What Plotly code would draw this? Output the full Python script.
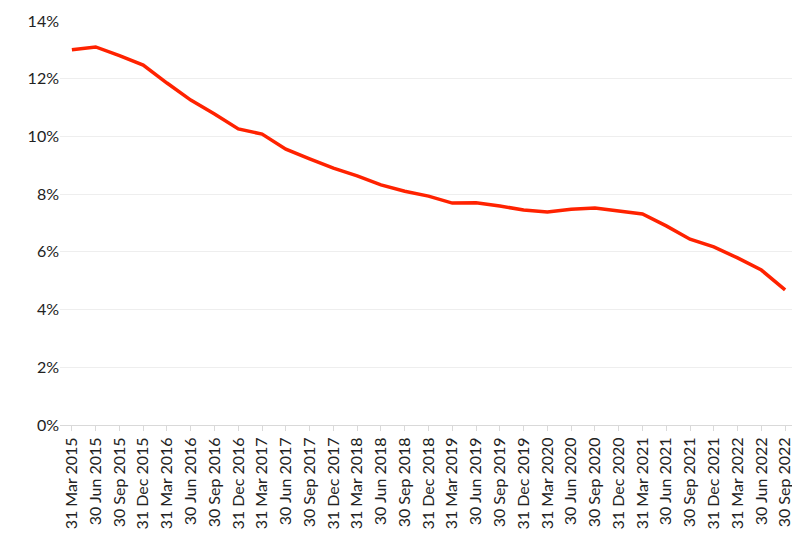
import plotly.graph_objects as go

quarters = ["31 Mar 2015", "30 Jun 2015", "30 Sep 2015", "31 Dec 2015",
            "31 Mar 2016", "30 Jun 2016", "30 Sep 2016", "31 Dec 2016",
            "31 Mar 2017", "30 Jun 2017", "30 Sep 2017", "31 Dec 2017",
            "31 Mar 2018", "30 Jun 2018", "30 Sep 2018", "31 Dec 2018",
            "31 Mar 2019", "30 Jun 2019", "30 Sep 2019", "31 Dec 2019",
            "31 Mar 2020", "30 Jun 2020", "30 Sep 2020", "31 Dec 2020",
            "31 Mar 2021", "30 Jun 2021", "30 Sep 2021", "31 Dec 2021",
            "31 Mar 2022", "30 Jun 2022", "30 Sep 2022"]
rate = [13.0, 13.1, 12.8, 12.47, 11.85, 11.26, 10.78, 10.26, 10.08, 9.56,
        9.22, 8.9, 8.63, 8.32, 8.1, 7.93, 7.69, 7.7, 7.59, 7.45, 7.38, 7.48,
        7.52, 7.42, 7.31, 6.9, 6.44, 6.17, 5.79, 5.37, 4.68]

fig = go.Figure()
fig.add_trace(go.Scatter(x=quarters, y=[v / 100 for v in rate], mode="lines",
                         line=dict(color="#ff2200", width=3.5)))

fig.update_layout(
    width=800, height=534,
    margin=dict(l=52, r=11, t=13, b=117),
    plot_bgcolor="white", paper_bgcolor="white",
    font=dict(family="Lato", size=16, color="#222"),
    showlegend=False,
)
fig.update_xaxes(tickangle=-90, showgrid=False, showline=True, linecolor="#d9d9d9",
                 ticks="outside", tickcolor="#d9d9d9", ticklen=5, automargin=False,
                 range=[-0.5, len(quarters) - 0.5])
fig.update_yaxes(range=[0, 0.14], dtick=0.02, tickformat=".0%", showgrid=True,
                 gridcolor="#eeeeee", zeroline=False, automargin=False)

fig.write_html("out.html")
